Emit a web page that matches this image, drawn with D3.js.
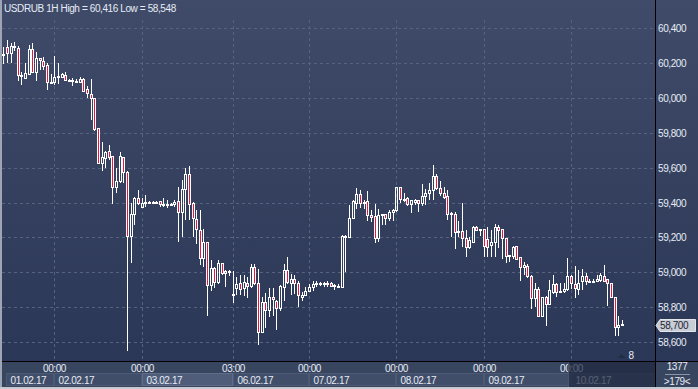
<!DOCTYPE html>
<html>
<head>
<meta charset="utf-8">
<script src="https://cdn.jsdelivr.net/npm/d3@7"></script>
<style>
  html, body { margin: 0; padding: 0; background: #2f3b59; overflow: hidden; }
  svg { display: block; }
  text { font-family: "Liberation Sans", Arial, sans-serif; font-size: 10px; letter-spacing: -0.4px; }
</style>
</head>
<body>
<div id="root"></div>
<script>
// USDRUB hourly candles, 01.02.17 10:00 -> 10.02.17
const open = [
  60250,60291,60256,60291,60285,60132,60117,60136,60281,60151,
  60228,60214,60189,60090,60090,60119,60122,60132,60103,60098,
  60098,60090,60107,60050,60023,59998,59826,59625,59657,59696,
  59669,59488,59524,59660,59578,59210,59334,59425,59373,59400,
  59402,59403,59402,59409,59392,59388,59390,59390,59409,59348,
  59476,59564,59396,59303,59242,59080,59175,58928,59023,58947,
  59051,58994,59005,58875,58908,58937,58910,58937,58922,59028,
  58937,58655,58832,58785,58857,58838,58794,58918,59013,58939,
  58962,58939,58857,58870,58890,58918,58933,58937,58937,58935,
  58937,58924,58920,58914,59209,59200,59309,59398,59451,59398,
  59408,59331,59322,59194,59331,59334,59310,59347,59360,59490,
  59423,59428,59389,59404,59413,59398,59436,59455,59474,59550,
  59486,59455,59436,59341,59337,59236,59236,59194,59147,59175,
  59257,59244,59248,59190,59156,59171,59261,59251,59194,59099,
  59093,59152,59089,59032,59038,58981,58851,58903,58752,58861,
  58817,58889,58933,58890,58890,58903,58979,58933,58905,58952,
  58979,58952,58947,58952,58956,58979,58960,58937,58861,58686,
  58700
];
const high = [
  60294,60333,60314,60321,60298,60151,60199,60302,60314,60262,
  60228,60237,60199,60136,60241,60199,60142,60151,60107,60113,
  60107,60122,60113,60067,60107,59998,59826,59746,59696,59730,
  59669,59597,59688,59663,59580,59396,59430,59472,59425,59444,
  59409,59409,59409,59411,59425,59415,59400,59413,59490,59530,
  59597,59610,59405,59356,59356,59251,59175,59070,59033,59070,
  59055,59015,59015,59010,58975,58985,58985,58975,59047,59047,
  59020,58860,58880,58908,58908,58842,58928,59048,59086,58990,
  58985,58952,58886,58914,58933,58952,58949,58943,58943,58949,
  58943,58933,58930,59215,59213,59385,59413,59485,59474,59413,
  59467,59356,59390,59366,59337,59337,59356,59366,59490,59490,
  59455,59432,59413,59423,59417,59509,59480,59512,59613,59562,
  59524,59490,59470,59347,59347,59295,59398,59242,59200,59265,
  59265,59248,59248,59261,59242,59276,59270,59251,59194,59099,
  59150,59152,59089,59061,59046,58985,58937,58918,58861,58865,
  58956,58985,58937,58937,58937,59080,58985,59036,59013,59017,
  58998,58960,58960,58985,58994,59042,58960,58937,58861,58747,
  58728
];
const low = [
  60193,60203,60203,60271,60099,60075,60107,60132,60147,60099,
  60161,60161,60046,60084,60075,60079,60113,60098,60094,60071,
  60090,60084,60036,60002,59874,59812,59625,59583,59600,59644,
  59390,59453,59511,59511,58548,59052,59271,59386,59367,59376,
  59396,59398,59398,59376,59376,59370,59384,59376,59172,59205,
  59300,59300,59205,59160,59042,59033,58747,58890,58909,58935,
  58985,58918,58980,58825,58870,58870,58865,58855,58909,58927,
  58585,58650,58680,58745,58747,58670,58780,58838,58933,58867,
  58876,58800,58838,58867,58886,58891,58918,58924,58918,58918,
  58918,58899,58910,58910,59004,59200,59309,59366,59370,59366,
  59293,59290,59170,59173,59274,59270,59295,59293,59347,59398,
  59404,59379,59341,59385,59347,59379,59385,59413,59413,59474,
  59436,59423,59299,59200,59131,59200,59147,59086,59133,59166,
  59236,59208,59090,59090,59090,59086,59137,59074,59051,59061,
  59074,59070,58952,58985,58966,58788,58800,58752,58752,58690,
  58813,58876,58861,58884,58880,58890,58903,58851,58870,58899,
  58928,58937,58941,58947,58947,58943,58804,58861,58632,58632,
  58693
];
const close = [
  60255,60256,60298,60300,60132,60125,60142,60281,60147,60228,
  60218,60186,60090,60094,60119,60126,60136,60101,60098,60103,
  60094,60107,60042,60027,59998,59820,59625,59660,59690,59663,
  59488,59524,59667,59578,59210,59334,59425,59396,59400,59404,
  59404,59402,59404,59390,59388,59390,59394,59405,59348,59476,
  59564,59390,59310,59246,59080,59175,58928,59023,58947,59051,
  58994,59005,59000,58870,58931,58904,58943,58922,59028,58940,
  58655,58832,58785,58857,58845,58794,58922,59013,58943,58962,
  58939,58867,58870,58891,58914,58933,58939,58935,58938,58939,
  58924,58926,58918,59210,59200,59309,59408,59451,59398,59404,
  59331,59318,59194,59331,59334,59310,59347,59360,59490,59423,
  59420,59389,59413,59417,59398,59436,59455,59474,59550,59486,
  59455,59432,59337,59338,59232,59236,59194,59147,59185,59257,
  59242,59246,59152,59147,59171,59257,59242,59194,59093,59093,
  59147,59074,59032,59042,58981,58851,58903,58752,58861,58817,
  58899,58933,58889,58892,58903,58979,58937,58909,58941,58979,
  58952,58945,58952,58960,58985,58952,58937,58861,58686,58699,
  58703
];

// day sessions: label and index of first candle
const dayLabels = ["01.02.17","02.02.17","03.02.17","06.02.17","07.02.17","08.02.17","09.02.17","10.02.17"];
const dayStart  = [0, 14, 38, 63, 84, 108, 132, 156];
const timeLabels = ["", "00:00", "00:00", "03:00", "00:00", "00:00", "00:00", "00:00"];
const priceTicks = [58600, 58800, 59000, 59200, 59400, 59600, 59800, 60000, 60200, 60400];
const title = "USDRUB 1H High = 60,416 Low = 58,548";
const lastPrice = 58700;
const barsInfo = ["1377", ">179<"];
const markerLabel = "8";

const width = 698, height = 389;
const plotRight = 655, plotBottom = 361;

const x = d3.scaleLinear().domain([0, open.length - 1]).range([3.3, 622]);
const y = d3.scaleLinear().domain([58600, 60400]).range([342, 28.3]);
const fmt = d3.format(",");
const px = (v) => Math.round(v) + 0.5;

const svg = d3.select("#root").append("svg")
    .attr("width", width)
    .attr("height", height);

const defs = svg.append("defs");
const grad = defs.append("linearGradient")
    .attr("id", "bg").attr("x1", 0).attr("y1", 0).attr("x2", 0).attr("y2", 1);
grad.append("stop").attr("offset", "0%").attr("stop-color", "#3f4b68");
grad.append("stop").attr("offset", "100%").attr("stop-color", "#2b3756");

svg.append("rect")
    .attr("width", width).attr("height", plotBottom)
    .attr("fill", "url(#bg)");

// bottom time panel
svg.append("rect")
    .attr("y", plotBottom).attr("width", width).attr("height", height - plotBottom)
    .attr("fill", "#38455f");

// grid
const grid = svg.append("g")
    .attr("stroke", "#56637f")
    .attr("stroke-dasharray", "3,3");

grid.selectAll("line.h")
    .data(priceTicks)
    .enter().append("line")
        .attr("class", "h")
        .attr("x1", 2).attr("x2", plotRight)
        .attr("y1", (d) => px(y(d))).attr("y2", (d) => px(y(d)));

grid.selectAll("line.v")
    .data(dayStart.slice(1))
    .enter().append("line")
        .attr("class", "v")
        .attr("x1", (d) => px(x(d))).attr("x2", (d) => px(x(d)))
        .attr("y1", 20).attr("y2", plotBottom);

// candles
const idx = d3.range(open.length);
const candles = svg.append("g");

const candle = candles.selectAll("g")
    .data(idx)
    .enter().append("g")
        .attr("stroke", "#ffffff")
        .attr("stroke-width", 1);

const colX = (i) => Math.round(x(i));
const bodyTop = (i) => Math.round(y(Math.max(open[i], close[i])));
const bodyBot = (i) => Math.max(Math.round(y(Math.min(open[i], close[i]))), bodyTop(i) + 1);

candle.append("line")
    .attr("x1", (i) => colX(i) + 0.5).attr("x2", (i) => colX(i) + 0.5)
    .attr("y1", (i) => Math.round(y(high[i])))
    .attr("y2", (i) => bodyTop(i));

candle.append("line")
    .attr("x1", (i) => colX(i) + 0.5).attr("x2", (i) => colX(i) + 0.5)
    .attr("y1", (i) => bodyBot(i) + 1)
    .attr("y2", (i) => Math.max(Math.round(y(low[i])), bodyBot(i) + 1));

candle.append("rect")
    .attr("x", (i) => colX(i) - 0.5)
    .attr("y", (i) => bodyTop(i) + 0.5)
    .attr("width", 2)
    .attr("height", (i) => bodyBot(i) - bodyTop(i))
    .attr("fill", (i) => close[i] < open[i] ? "#e5173f" : "none");

// frame lines
svg.append("line")
    .attr("x1", plotRight + 0.5).attr("x2", plotRight + 0.5)
    .attr("y1", 0).attr("y2", height - 2)
    .attr("stroke", "#000");
svg.append("line")
    .attr("x1", 0).attr("x2", width)
    .attr("y1", plotBottom + 0.5).attr("y2", plotBottom + 0.5)
    .attr("stroke", "#000");

// title
svg.append("text")
    .attr("x", 4).attr("y", 12)
    .attr("fill", "#e6ecf6")
    .text(title);

// price axis
svg.append("g").selectAll("text")
    .data(priceTicks)
    .enter().append("text")
        .attr("x", 658)
        .attr("y", (d) => y(d) + 4)
        .attr("fill", "#e6ecf6")
        .text((d) => fmt(d));

// last price marker
const ly = Math.round(y(lastPrice));
svg.append("path")
    .attr("d", `M656,${ly + 0.5}L660,${ly - 5.5}H695.5V${ly + 6.5}H660Z`)
    .attr("fill", "#c8cdd6")
    .attr("stroke", "#e2e5ea");
svg.append("text")
    .attr("x", 660).attr("y", ly + 4)
    .attr("fill", "#1d2434")
    .text(fmt(lastPrice));

// small marker near bottom right of plot
svg.append("path")
    .attr("d", "M618,358L621.5,354L625,358Z")
    .attr("fill", "#222c42");
svg.append("text")
    .attr("x", 628.5).attr("y", 358.5)
    .attr("fill", "#e6ecf6")
    .text(markerLabel);

// date boxes and time labels
const dayEnd = dayStart.slice(1).map((d) => px(x(d))).concat([plotRight]);
const days = svg.append("g");

days.selectAll("rect")
    .data(dayLabels)
    .enter().append("rect")
        .attr("x", (d, i) => i === 0 ? 6.5 : px(x(dayStart[i])))
        .attr("y", 373.5)
        .attr("width", (d, i) => dayEnd[i] - (i === 0 ? 6.5 : px(x(dayStart[i]))) - 1)
        .attr("height", 12)
        .attr("fill", (d, i) => i === 2 ? "#4f5d7a" : "#414e69")
        .attr("stroke", (d, i) => i === 2 ? "#5f6d89" : "#4d5a75");

days.selectAll("text.date")
    .data(dayLabels)
    .enter().append("text")
        .attr("class", "date")
        .attr("x", (d, i) => (i === 0 ? 6 : Math.round(x(dayStart[i]))) + 4.5)
        .attr("y", 383.5)
        .attr("fill", "#e6ecf6")
        .text((d) => d);

days.selectAll("text.time")
    .data(timeLabels)
    .enter().append("text")
        .attr("class", "time")
        .attr("x", (d, i) => px(x(dayStart[i])))
        .attr("y", 372)
        .attr("text-anchor", "middle")
        .attr("fill", "#e6ecf6")
        .text((d) => d);

// dimmed tail of the time axis
svg.append("rect")
    .attr("x", 568).attr("y", plotBottom + 1)
    .attr("width", plotRight - 568).attr("height", height - plotBottom - 3)
    .attr("fill", "#1f2840")
    .attr("opacity", 0.72);
svg.append("line")
    .attr("x1", 568.5).attr("x2", 568.5)
    .attr("y1", plotBottom + 1).attr("y2", height - 2)
    .attr("stroke", "#4a5670");

// bar counters
svg.append("text")
    .attr("x", 677).attr("y", 370)
    .attr("text-anchor", "middle")
    .attr("fill", "#e6ecf6")
    .text(barsInfo[0]);
svg.append("line")
    .attr("x1", 665).attr("x2", 690)
    .attr("y1", 374.5).attr("y2", 374.5)
    .attr("stroke", "#8a94a8");
svg.append("text")
    .attr("x", 677).attr("y", 384.5)
    .attr("text-anchor", "middle")
    .attr("fill", "#e6ecf6")
    .text(barsInfo[1]);

// outer light border
svg.append("rect")
    .attr("x", 0).attr("y", 0).attr("width", 2).attr("height", height)
    .attr("fill", "#9ea6b6");
svg.append("rect")
    .attr("x", 0).attr("y", height - 2).attr("width", width).attr("height", 2)
    .attr("fill", "#c6cad3");
</script>
</body>
</html>
